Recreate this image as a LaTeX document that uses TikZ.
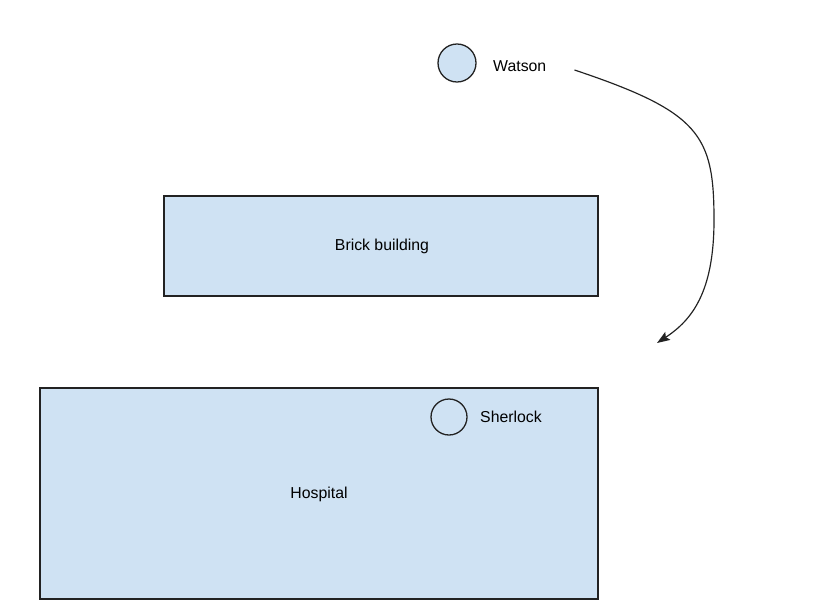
\documentclass[tikz,border=0pt]{standalone}
\usepackage{fontspec}
\setmainfont{Liberation Sans}
\usetikzlibrary{arrows.meta}
\definecolor{roomblue}{HTML}{CFE2F3}
\definecolor{edgegray}{HTML}{222222}
\tikzset{
  building/.style={draw=edgegray,fill=roomblue,line width=1.1pt,inner sep=0pt},
  person/.style={circle,draw=edgegray,fill=roomblue,line width=1.1pt,inner sep=0pt},
  lbl/.style={font=\fontsize{13.5}{16}\selectfont,inner sep=0pt}
}
\begin{document}
\begin{tikzpicture}[x=0.03cm,y=-0.03cm]
\useasboundingbox[fill=white] (0,0) rectangle (820,615);
\node[building,minimum width=434*0.03cm,minimum height=100*0.03cm] (brick) at (381,246) {};
\node[lbl] (bricklbl) at (382,246) {Brick building};
\node[building,minimum width=558*0.03cm,minimum height=211*0.03cm] (hospital) at (319,493.5) {};
\node[lbl] (hospitallbl) at (319,494) {Hospital};
\node[person,minimum size=38*0.03cm] (watson) at (457,63) {};
\node[lbl,anchor=west] (watsonlbl) at (493,66) {Watson};
\node[person,fill=none,minimum size=36*0.03cm] (sherlock) at (449,417) {};
\node[lbl,anchor=west] (sherlocklbl) at (480,417) {Sherlock};
\coordinate (target) at (657,343);
\draw[edgegray,line width=1pt,-{Stealth[length=11pt,width=8pt,inset=2pt]}]
  ([xshift=28*0.03cm,yshift=-4*0.03cm]watsonlbl.east) .. controls (700,112) and (714,135) .. (714,220)
  .. controls (714,292) and (692,320) .. (target);
\end{tikzpicture}
\end{document}
